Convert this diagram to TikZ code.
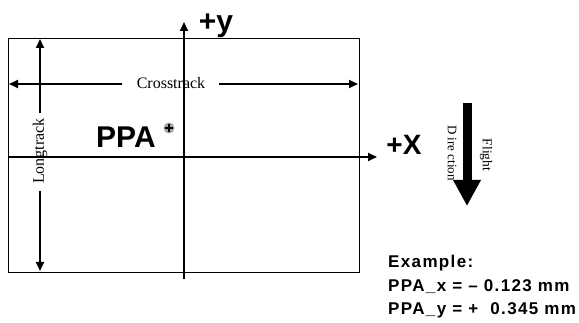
\documentclass[tikz,border=0pt]{standalone}
\usepackage{fontspec}
\setmainfont{Liberation Serif}
\newfontfamily\arialb{Liberation Sans}[BoldFont={Liberation Sans Bold}]
\newfontfamily\arialsp{Liberation Sans}[BoldFont={Liberation Sans Bold},LetterSpace=8]
\usetikzlibrary{arrows.meta}
\begin{document}
\begin{tikzpicture}[x=1pt,y=-1pt,
  thickarrow/.style={line width=2pt,-{Triangle[length=9pt,width=8pt]}},
  serlabel/.style={font=\fontsize{16}{16}\selectfont,inner sep=1pt},
  biglabel/.style={font=\arialb\bfseries\fontsize{28}{28}\selectfont,inner sep=0pt},
  exlabel/.style={font=\arialsp\bfseries\fontsize{17}{23.5}\selectfont,align=left,anchor=base west,inner sep=0pt}]
\useasboundingbox (0,0) rectangle (579,323);
\fill[white] (0,0) rectangle (579,323);
% frame
\draw[line width=1pt] (8,39) rectangle (359,273);
% axes
\coordinate (xs) at (8,157);
\coordinate (xe) at (377,157);
\coordinate (ys) at (184,279);
\coordinate (ye) at (184,22);
\draw[thickarrow] (xs) -- (xe);
\draw[thickarrow] (ys) -- (ye);
\node[biglabel,anchor=base,font=\arialb\bfseries\fontsize{30}{30}\selectfont] (ylab) at (216,32) {+y};
\node[biglabel,anchor=base] (xlab) at (404,155) {+X};
% crosstrack
\node[serlabel] (ct) at (171,83) {Crosstrack};
\coordinate (cl) at (9,84);
\coordinate (cr) at (358,84);
\draw[thickarrow] (122,84) -- (cl);
\draw[thickarrow] (219,84) -- (cr);
% longtrack
\node[serlabel,rotate=90] (lt) at (40,151) {Longtrack};
\coordinate (lu) at (40,39);
\coordinate (ld) at (40,271);
\draw[thickarrow] (40,113) -- (lu);
\draw[thickarrow] (40,191) -- (ld);
% PPA
\node[biglabel,anchor=base west,font=\arialb\bfseries\fontsize{30}{30}\selectfont] (ppa) at (96,148) {PPA};
\node[circle,fill=gray!70,minimum size=11pt,inner sep=0pt] (pp) at (169,128) {};
\draw[line width=2.2pt] ([xshift=-4pt]pp.center) -- ([xshift=4pt]pp.center);
\draw[line width=2.2pt] ([yshift=-4pt]pp.center) -- ([yshift=4pt]pp.center);
% flight direction
\coordinate (fs) at (467,103);
\coordinate (fe) at (467,206);
\draw[line width=9pt,-{Triangle[length=26pt,width=26pt]}] (fs) -- (fe);
\node[serlabel,font=\fontsize{13.5}{13.5}\selectfont,rotate=-90] (fl) at (486,155) {Flight};
\node[serlabel,font=\fontsize{13}{13}\selectfont,rotate=-90] (dir) at (452,153) {D ire ction};
% example
\node[exlabel] (ex) at (388,315) {Example:\\PPA\_x = – 0.123 mm\\PPA\_y = +\ \ 0.345 mm};
\end{tikzpicture}
\end{document}
